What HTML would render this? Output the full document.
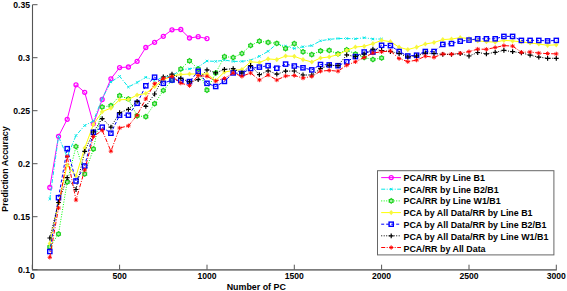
<!DOCTYPE html>
<html><head><meta charset="utf-8"><style>
html,body{margin:0;padding:0;background:#fff;}
svg{display:block;}
.t{font-family:"Liberation Sans",sans-serif;font-weight:bold;font-size:8.6px;fill:#000;}
.l{font-family:"Liberation Sans",sans-serif;font-weight:bold;font-size:8.9px;fill:#000;}
</style></head><body>
<svg width="567" height="291" viewBox="0 0 567 291">
<rect width="567" height="291" fill="#fff"/>
<path d="M32.5 4.7V269.2" fill="none" stroke="#555" stroke-width="1.1"/>
<path d="M32 269.9H556.8" fill="none" stroke="#7c7c7c" stroke-width="1.7"/>
<path d="M32.5 269.7H37.5" stroke="#555" stroke-width="1"/>
<text x="30" y="272.6" text-anchor="end" class="t">0.1</text>
<path d="M32.5 216.7H37.5" stroke="#555" stroke-width="1"/>
<text x="30" y="219.6" text-anchor="end" class="t">0.15</text>
<path d="M32.5 163.7H37.5" stroke="#555" stroke-width="1"/>
<text x="30" y="166.6" text-anchor="end" class="t">0.2</text>
<path d="M32.5 110.7H37.5" stroke="#555" stroke-width="1"/>
<text x="30" y="113.6" text-anchor="end" class="t">0.25</text>
<path d="M32.5 57.7H37.5" stroke="#555" stroke-width="1"/>
<text x="30" y="60.6" text-anchor="end" class="t">0.3</text>
<path d="M32.5 4.7H37.5" stroke="#555" stroke-width="1"/>
<text x="30" y="7.6" text-anchor="end" class="t">0.35</text>
<path d="M32.3 269.7V264.7" stroke="#555" stroke-width="1"/>
<text x="32.3" y="279.1" text-anchor="middle" class="t">0</text>
<path d="M119.6 269.7V264.7" stroke="#555" stroke-width="1"/>
<text x="119.6" y="279.1" text-anchor="middle" class="t">500</text>
<path d="M207.0 269.7V264.7" stroke="#555" stroke-width="1"/>
<text x="207.0" y="279.1" text-anchor="middle" class="t">1000</text>
<path d="M294.3 269.7V264.7" stroke="#555" stroke-width="1"/>
<text x="294.3" y="279.1" text-anchor="middle" class="t">1500</text>
<path d="M381.6 269.7V264.7" stroke="#555" stroke-width="1"/>
<text x="381.6" y="279.1" text-anchor="middle" class="t">2000</text>
<path d="M469.0 269.7V264.7" stroke="#555" stroke-width="1"/>
<text x="469.0" y="279.1" text-anchor="middle" class="t">2500</text>
<path d="M556.3 269.7V264.7" stroke="#555" stroke-width="1"/>
<text x="556.3" y="279.1" text-anchor="middle" class="t">3000</text>
<text x="256.3" y="289.9" text-anchor="middle" class="l">Number of PC</text>
<text transform="translate(7.8 169) rotate(-90)" text-anchor="middle" class="l">Prediction Accuracy</text>
<path d="M49.8 187.5 L58.5 136.3 L67.2 119.3 L76.0 84.8 L84.7 92.3 L93.4 123.8 L102.2 99.5 L110.9 78.8 L119.6 67.6 L128.4 67.0 L137.1 61.3 L145.8 47.5 L154.6 42.3 L163.3 36.3 L172.0 29.8 L180.8 29.5 L189.5 38.0 L198.2 36.7 L207.0 38.6" fill="none" stroke="#ff00ff" stroke-width="1"/>
<circle cx="49.8" cy="187.5" r="2.0" fill="none" stroke="#ff00ff" stroke-width="1.3"/>
<circle cx="58.5" cy="136.3" r="2.0" fill="none" stroke="#ff00ff" stroke-width="1.3"/>
<circle cx="67.2" cy="119.3" r="2.0" fill="none" stroke="#ff00ff" stroke-width="1.3"/>
<circle cx="76.0" cy="84.8" r="2.0" fill="none" stroke="#ff00ff" stroke-width="1.3"/>
<circle cx="84.7" cy="92.3" r="2.0" fill="none" stroke="#ff00ff" stroke-width="1.3"/>
<circle cx="93.4" cy="123.8" r="2.0" fill="none" stroke="#ff00ff" stroke-width="1.3"/>
<circle cx="102.2" cy="99.5" r="2.0" fill="none" stroke="#ff00ff" stroke-width="1.3"/>
<circle cx="110.9" cy="78.8" r="2.0" fill="none" stroke="#ff00ff" stroke-width="1.3"/>
<circle cx="119.6" cy="67.6" r="2.0" fill="none" stroke="#ff00ff" stroke-width="1.3"/>
<circle cx="128.4" cy="67.0" r="2.0" fill="none" stroke="#ff00ff" stroke-width="1.3"/>
<circle cx="137.1" cy="61.3" r="2.0" fill="none" stroke="#ff00ff" stroke-width="1.3"/>
<circle cx="145.8" cy="47.5" r="2.0" fill="none" stroke="#ff00ff" stroke-width="1.3"/>
<circle cx="154.6" cy="42.3" r="2.0" fill="none" stroke="#ff00ff" stroke-width="1.3"/>
<circle cx="163.3" cy="36.3" r="2.0" fill="none" stroke="#ff00ff" stroke-width="1.3"/>
<circle cx="172.0" cy="29.8" r="2.0" fill="none" stroke="#ff00ff" stroke-width="1.3"/>
<circle cx="180.8" cy="29.5" r="2.0" fill="none" stroke="#ff00ff" stroke-width="1.3"/>
<circle cx="189.5" cy="38.0" r="2.0" fill="none" stroke="#ff00ff" stroke-width="1.3"/>
<circle cx="198.2" cy="36.7" r="2.0" fill="none" stroke="#ff00ff" stroke-width="1.3"/>
<circle cx="207.0" cy="38.6" r="2.0" fill="none" stroke="#ff00ff" stroke-width="1.3"/>
<path d="M49.8 199.0 L58.5 136.5 L67.2 157.0 L76.0 135.5 L84.7 125.5 L93.4 121.0 L102.2 98.5 L110.9 82.0 L119.6 76.4 L128.4 87.0 L137.1 82.5 L145.8 77.3 L154.6 80.4 L163.3 77.3 L172.0 76.0 L180.8 69.6 L189.5 68.9 L198.2 67.0 L207.0 61.0 L215.7 61.4 L224.4 60.1 L233.2 61.4 L241.9 61.4 L250.6 60.1 L259.4 56.3 L268.1 51.3 L276.8 43.8 L285.6 46.2 L294.3 48.5 L303.0 46.7 L311.8 45.6 L320.5 40.8 L329.2 39.4 L338.0 38.5 L346.7 38.5 L355.4 38.8 L364.2 37.7 L372.9 39.0 L381.6 39.0" fill="none" stroke="#00e8e8" stroke-width="1" stroke-dasharray="4 1.5 1 1.5"/>
<path d="M48.6 197.8L51.0 200.2M48.6 200.2L51.0 197.8" stroke="#00e8e8" stroke-width="1"/>
<path d="M57.3 135.3L59.7 137.7M57.3 137.7L59.7 135.3" stroke="#00e8e8" stroke-width="1"/>
<path d="M66.0 155.8L68.4 158.2M66.0 158.2L68.4 155.8" stroke="#00e8e8" stroke-width="1"/>
<path d="M74.8 134.3L77.2 136.7M74.8 136.7L77.2 134.3" stroke="#00e8e8" stroke-width="1"/>
<path d="M83.5 124.3L85.9 126.7M83.5 126.7L85.9 124.3" stroke="#00e8e8" stroke-width="1"/>
<path d="M92.2 119.8L94.6 122.2M92.2 122.2L94.6 119.8" stroke="#00e8e8" stroke-width="1"/>
<path d="M101.0 97.3L103.4 99.7M101.0 99.7L103.4 97.3" stroke="#00e8e8" stroke-width="1"/>
<path d="M109.7 80.8L112.1 83.2M109.7 83.2L112.1 80.8" stroke="#00e8e8" stroke-width="1"/>
<path d="M118.4 75.2L120.8 77.6M118.4 77.6L120.8 75.2" stroke="#00e8e8" stroke-width="1"/>
<path d="M127.2 85.8L129.6 88.2M127.2 88.2L129.6 85.8" stroke="#00e8e8" stroke-width="1"/>
<path d="M135.9 81.3L138.3 83.7M135.9 83.7L138.3 81.3" stroke="#00e8e8" stroke-width="1"/>
<path d="M144.6 76.1L147.0 78.5M144.6 78.5L147.0 76.1" stroke="#00e8e8" stroke-width="1"/>
<path d="M153.4 79.2L155.8 81.6M153.4 81.6L155.8 79.2" stroke="#00e8e8" stroke-width="1"/>
<path d="M162.1 76.1L164.5 78.5M162.1 78.5L164.5 76.1" stroke="#00e8e8" stroke-width="1"/>
<path d="M170.8 74.8L173.2 77.2M170.8 77.2L173.2 74.8" stroke="#00e8e8" stroke-width="1"/>
<path d="M179.6 68.4L182.0 70.8M179.6 70.8L182.0 68.4" stroke="#00e8e8" stroke-width="1"/>
<path d="M188.3 67.7L190.7 70.1M188.3 70.1L190.7 67.7" stroke="#00e8e8" stroke-width="1"/>
<path d="M197.0 65.8L199.4 68.2M197.0 68.2L199.4 65.8" stroke="#00e8e8" stroke-width="1"/>
<path d="M205.8 59.8L208.2 62.2M205.8 62.2L208.2 59.8" stroke="#00e8e8" stroke-width="1"/>
<path d="M214.5 60.2L216.9 62.6M214.5 62.6L216.9 60.2" stroke="#00e8e8" stroke-width="1"/>
<path d="M223.2 58.9L225.6 61.3M223.2 61.3L225.6 58.9" stroke="#00e8e8" stroke-width="1"/>
<path d="M232.0 60.2L234.4 62.6M232.0 62.6L234.4 60.2" stroke="#00e8e8" stroke-width="1"/>
<path d="M240.7 60.2L243.1 62.6M240.7 62.6L243.1 60.2" stroke="#00e8e8" stroke-width="1"/>
<path d="M249.4 58.9L251.8 61.3M249.4 61.3L251.8 58.9" stroke="#00e8e8" stroke-width="1"/>
<path d="M258.2 55.1L260.6 57.5M258.2 57.5L260.6 55.1" stroke="#00e8e8" stroke-width="1"/>
<path d="M266.9 50.1L269.3 52.5M266.9 52.5L269.3 50.1" stroke="#00e8e8" stroke-width="1"/>
<path d="M275.6 42.6L278.0 45.0M275.6 45.0L278.0 42.6" stroke="#00e8e8" stroke-width="1"/>
<path d="M284.4 45.0L286.8 47.4M284.4 47.4L286.8 45.0" stroke="#00e8e8" stroke-width="1"/>
<path d="M293.1 47.3L295.5 49.7M293.1 49.7L295.5 47.3" stroke="#00e8e8" stroke-width="1"/>
<path d="M301.8 45.5L304.2 47.9M301.8 47.9L304.2 45.5" stroke="#00e8e8" stroke-width="1"/>
<path d="M310.6 44.4L313.0 46.8M310.6 46.8L313.0 44.4" stroke="#00e8e8" stroke-width="1"/>
<path d="M319.3 39.6L321.7 42.0M319.3 42.0L321.7 39.6" stroke="#00e8e8" stroke-width="1"/>
<path d="M328.0 38.2L330.4 40.6M328.0 40.6L330.4 38.2" stroke="#00e8e8" stroke-width="1"/>
<path d="M336.8 37.3L339.2 39.7M336.8 39.7L339.2 37.3" stroke="#00e8e8" stroke-width="1"/>
<path d="M345.5 37.3L347.9 39.7M345.5 39.7L347.9 37.3" stroke="#00e8e8" stroke-width="1"/>
<path d="M354.2 37.6L356.6 40.0M354.2 40.0L356.6 37.6" stroke="#00e8e8" stroke-width="1"/>
<path d="M363.0 36.5L365.4 38.9M363.0 38.9L365.4 36.5" stroke="#00e8e8" stroke-width="1"/>
<path d="M371.7 37.8L374.1 40.2M371.7 40.2L374.1 37.8" stroke="#00e8e8" stroke-width="1"/>
<path d="M380.4 37.8L382.8 40.2M380.4 40.2L382.8 37.8" stroke="#00e8e8" stroke-width="1"/>
<path d="M49.8 247.0 L58.5 234.0 L67.2 182.0 L76.0 146.5 L84.7 174.0 L93.4 149.0 L102.2 107.0 L110.9 105.7 L119.6 95.7 L128.4 99.0 L137.1 115.8 L145.8 116.7 L154.6 103.7 L163.3 90.5 L172.0 80.3 L180.8 69.0 L189.5 60.8 L198.2 69.0 L207.0 90.2 L215.7 73.0 L224.4 56.6 L233.2 57.5 L241.9 53.5 L250.6 45.5 L259.4 41.2 L268.1 42.4 L276.8 43.4 L285.6 48.6 L294.3 43.6 L303.0 51.8 L311.8 54.6 L320.5 50.9 L329.2 50.4 L338.0 53.9 L346.7 49.8 L355.4 54.0 L364.2 57.5 L372.9 59.5 L381.6 58.0" fill="none" stroke="#00ff00" stroke-width="1" stroke-dasharray="1 1.5"/>
<polygon points="49.77,244.70 48.89,245.48 47.77,245.85 48.02,247.00 47.77,248.15 48.89,248.52 49.77,249.30 50.64,248.52 51.76,248.15 51.52,247.00 51.76,245.85 50.64,245.48" fill="#a8f0a8" stroke="#18d018" stroke-width="1.2"/>
<polygon points="58.50,231.70 57.62,232.48 56.51,232.85 56.75,234.00 56.51,235.15 57.62,235.52 58.50,236.30 59.38,235.52 60.49,235.15 60.25,234.00 60.49,232.85 59.38,232.48" fill="#a8f0a8" stroke="#18d018" stroke-width="1.2"/>
<polygon points="67.23,179.70 66.36,180.48 65.24,180.85 65.48,182.00 65.24,183.15 66.36,183.52 67.23,184.30 68.11,183.52 69.23,183.15 68.98,182.00 69.23,180.85 68.11,180.48" fill="#a8f0a8" stroke="#18d018" stroke-width="1.2"/>
<polygon points="75.97,144.20 75.09,144.98 73.97,145.35 74.22,146.50 73.97,147.65 75.09,148.02 75.97,148.80 76.84,148.02 77.96,147.65 77.72,146.50 77.96,145.35 76.84,144.98" fill="#a8f0a8" stroke="#18d018" stroke-width="1.2"/>
<polygon points="84.70,171.70 83.82,172.48 82.71,172.85 82.95,174.00 82.71,175.15 83.82,175.52 84.70,176.30 85.57,175.52 86.69,175.15 86.45,174.00 86.69,172.85 85.57,172.48" fill="#a8f0a8" stroke="#18d018" stroke-width="1.2"/>
<polygon points="93.43,146.70 92.56,147.48 91.44,147.85 91.68,149.00 91.44,150.15 92.56,150.52 93.43,151.30 94.31,150.52 95.43,150.15 95.18,149.00 95.43,147.85 94.31,147.48" fill="#a8f0a8" stroke="#18d018" stroke-width="1.2"/>
<polygon points="102.17,104.70 101.29,105.48 100.17,105.85 100.42,107.00 100.17,108.15 101.29,108.52 102.17,109.30 103.04,108.52 104.16,108.15 103.92,107.00 104.16,105.85 103.04,105.48" fill="#a8f0a8" stroke="#18d018" stroke-width="1.2"/>
<polygon points="110.90,103.40 110.02,104.18 108.91,104.55 109.15,105.70 108.91,106.85 110.02,107.22 110.90,108.00 111.77,107.22 112.89,106.85 112.65,105.70 112.89,104.55 111.77,104.18" fill="#a8f0a8" stroke="#18d018" stroke-width="1.2"/>
<polygon points="119.63,93.40 118.76,94.18 117.64,94.55 117.88,95.70 117.64,96.85 118.76,97.22 119.63,98.00 120.51,97.22 121.63,96.85 121.38,95.70 121.63,94.55 120.51,94.18" fill="#a8f0a8" stroke="#18d018" stroke-width="1.2"/>
<polygon points="128.37,96.70 127.49,97.48 126.37,97.85 126.62,99.00 126.37,100.15 127.49,100.52 128.37,101.30 129.24,100.52 130.36,100.15 130.12,99.00 130.36,97.85 129.24,97.48" fill="#a8f0a8" stroke="#18d018" stroke-width="1.2"/>
<polygon points="137.10,113.50 136.22,114.28 135.11,114.65 135.35,115.80 135.11,116.95 136.22,117.32 137.10,118.10 137.97,117.32 139.09,116.95 138.85,115.80 139.09,114.65 137.97,114.28" fill="#a8f0a8" stroke="#18d018" stroke-width="1.2"/>
<polygon points="145.83,114.40 144.96,115.18 143.84,115.55 144.08,116.70 143.84,117.85 144.96,118.22 145.83,119.00 146.71,118.22 147.83,117.85 147.58,116.70 147.83,115.55 146.71,115.18" fill="#a8f0a8" stroke="#18d018" stroke-width="1.2"/>
<polygon points="154.57,101.40 153.69,102.18 152.57,102.55 152.82,103.70 152.57,104.85 153.69,105.22 154.57,106.00 155.44,105.22 156.56,104.85 156.32,103.70 156.56,102.55 155.44,102.18" fill="#a8f0a8" stroke="#18d018" stroke-width="1.2"/>
<polygon points="163.30,88.20 162.43,88.98 161.31,89.35 161.55,90.50 161.31,91.65 162.43,92.02 163.30,92.80 164.18,92.02 165.29,91.65 165.05,90.50 165.29,89.35 164.18,88.98" fill="#a8f0a8" stroke="#18d018" stroke-width="1.2"/>
<polygon points="172.03,78.00 171.16,78.78 170.04,79.15 170.28,80.30 170.04,81.45 171.16,81.82 172.03,82.60 172.91,81.82 174.03,81.45 173.78,80.30 174.03,79.15 172.91,78.78" fill="#a8f0a8" stroke="#18d018" stroke-width="1.2"/>
<polygon points="180.77,66.70 179.89,67.48 178.77,67.85 179.02,69.00 178.77,70.15 179.89,70.52 180.77,71.30 181.64,70.52 182.76,70.15 182.52,69.00 182.76,67.85 181.64,67.48" fill="#a8f0a8" stroke="#18d018" stroke-width="1.2"/>
<polygon points="189.50,58.50 188.62,59.28 187.51,59.65 187.75,60.80 187.51,61.95 188.62,62.32 189.50,63.10 190.38,62.32 191.49,61.95 191.25,60.80 191.49,59.65 190.38,59.28" fill="#a8f0a8" stroke="#18d018" stroke-width="1.2"/>
<polygon points="198.23,66.70 197.36,67.48 196.24,67.85 196.48,69.00 196.24,70.15 197.36,70.52 198.23,71.30 199.11,70.52 200.23,70.15 199.98,69.00 200.23,67.85 199.11,67.48" fill="#a8f0a8" stroke="#18d018" stroke-width="1.2"/>
<polygon points="206.97,87.90 206.09,88.68 204.97,89.05 205.22,90.20 204.97,91.35 206.09,91.72 206.97,92.50 207.84,91.72 208.96,91.35 208.72,90.20 208.96,89.05 207.84,88.68" fill="#a8f0a8" stroke="#18d018" stroke-width="1.2"/>
<polygon points="215.70,70.70 214.82,71.48 213.71,71.85 213.95,73.00 213.71,74.15 214.82,74.52 215.70,75.30 216.57,74.52 217.69,74.15 217.45,73.00 217.69,71.85 216.57,71.48" fill="#a8f0a8" stroke="#18d018" stroke-width="1.2"/>
<polygon points="224.43,54.30 223.56,55.08 222.44,55.45 222.68,56.60 222.44,57.75 223.56,58.12 224.43,58.90 225.31,58.12 226.43,57.75 226.18,56.60 226.43,55.45 225.31,55.08" fill="#a8f0a8" stroke="#18d018" stroke-width="1.2"/>
<polygon points="233.17,55.20 232.29,55.98 231.17,56.35 231.42,57.50 231.17,58.65 232.29,59.02 233.17,59.80 234.04,59.02 235.16,58.65 234.92,57.50 235.16,56.35 234.04,55.98" fill="#a8f0a8" stroke="#18d018" stroke-width="1.2"/>
<polygon points="241.90,51.20 241.02,51.98 239.91,52.35 240.15,53.50 239.91,54.65 241.02,55.02 241.90,55.80 242.77,55.02 243.89,54.65 243.65,53.50 243.89,52.35 242.77,51.98" fill="#a8f0a8" stroke="#18d018" stroke-width="1.2"/>
<polygon points="250.63,43.20 249.76,43.98 248.64,44.35 248.88,45.50 248.64,46.65 249.76,47.02 250.63,47.80 251.51,47.02 252.63,46.65 252.38,45.50 252.63,44.35 251.51,43.98" fill="#a8f0a8" stroke="#18d018" stroke-width="1.2"/>
<polygon points="259.37,38.90 258.49,39.68 257.37,40.05 257.62,41.20 257.37,42.35 258.49,42.72 259.37,43.50 260.24,42.72 261.36,42.35 261.12,41.20 261.36,40.05 260.24,39.68" fill="#a8f0a8" stroke="#18d018" stroke-width="1.2"/>
<polygon points="268.10,40.10 267.22,40.88 266.11,41.25 266.35,42.40 266.11,43.55 267.22,43.92 268.10,44.70 268.97,43.92 270.09,43.55 269.85,42.40 270.09,41.25 268.97,40.88" fill="#a8f0a8" stroke="#18d018" stroke-width="1.2"/>
<polygon points="276.83,41.10 275.96,41.88 274.84,42.25 275.08,43.40 274.84,44.55 275.96,44.92 276.83,45.70 277.71,44.92 278.83,44.55 278.58,43.40 278.83,42.25 277.71,41.88" fill="#a8f0a8" stroke="#18d018" stroke-width="1.2"/>
<polygon points="285.57,46.30 284.69,47.08 283.57,47.45 283.82,48.60 283.57,49.75 284.69,50.12 285.57,50.90 286.44,50.12 287.56,49.75 287.32,48.60 287.56,47.45 286.44,47.08" fill="#a8f0a8" stroke="#18d018" stroke-width="1.2"/>
<polygon points="294.30,41.30 293.43,42.08 292.31,42.45 292.55,43.60 292.31,44.75 293.43,45.12 294.30,45.90 295.18,45.12 296.29,44.75 296.05,43.60 296.29,42.45 295.18,42.08" fill="#a8f0a8" stroke="#18d018" stroke-width="1.2"/>
<polygon points="303.03,49.50 302.16,50.28 301.04,50.65 301.28,51.80 301.04,52.95 302.16,53.32 303.03,54.10 303.91,53.32 305.03,52.95 304.78,51.80 305.03,50.65 303.91,50.28" fill="#a8f0a8" stroke="#18d018" stroke-width="1.2"/>
<polygon points="311.77,52.30 310.89,53.08 309.77,53.45 310.02,54.60 309.77,55.75 310.89,56.12 311.77,56.90 312.64,56.12 313.76,55.75 313.52,54.60 313.76,53.45 312.64,53.08" fill="#a8f0a8" stroke="#18d018" stroke-width="1.2"/>
<polygon points="320.50,48.60 319.62,49.38 318.51,49.75 318.75,50.90 318.51,52.05 319.62,52.42 320.50,53.20 321.38,52.42 322.49,52.05 322.25,50.90 322.49,49.75 321.38,49.38" fill="#a8f0a8" stroke="#18d018" stroke-width="1.2"/>
<polygon points="329.23,48.10 328.36,48.88 327.24,49.25 327.48,50.40 327.24,51.55 328.36,51.92 329.23,52.70 330.11,51.92 331.23,51.55 330.98,50.40 331.23,49.25 330.11,48.88" fill="#a8f0a8" stroke="#18d018" stroke-width="1.2"/>
<polygon points="337.97,51.60 337.09,52.38 335.97,52.75 336.22,53.90 335.97,55.05 337.09,55.42 337.97,56.20 338.84,55.42 339.96,55.05 339.72,53.90 339.96,52.75 338.84,52.38" fill="#a8f0a8" stroke="#18d018" stroke-width="1.2"/>
<polygon points="346.70,47.50 345.82,48.28 344.71,48.65 344.95,49.80 344.71,50.95 345.82,51.32 346.70,52.10 347.57,51.32 348.69,50.95 348.45,49.80 348.69,48.65 347.57,48.28" fill="#a8f0a8" stroke="#18d018" stroke-width="1.2"/>
<polygon points="355.43,51.70 354.56,52.48 353.44,52.85 353.68,54.00 353.44,55.15 354.56,55.52 355.43,56.30 356.31,55.52 357.43,55.15 357.18,54.00 357.43,52.85 356.31,52.48" fill="#a8f0a8" stroke="#18d018" stroke-width="1.2"/>
<polygon points="364.17,55.20 363.29,55.98 362.17,56.35 362.42,57.50 362.17,58.65 363.29,59.02 364.17,59.80 365.04,59.02 366.16,58.65 365.92,57.50 366.16,56.35 365.04,55.98" fill="#a8f0a8" stroke="#18d018" stroke-width="1.2"/>
<polygon points="372.90,57.20 372.03,57.98 370.91,58.35 371.15,59.50 370.91,60.65 372.03,61.02 372.90,61.80 373.78,61.02 374.89,60.65 374.65,59.50 374.89,58.35 373.78,57.98" fill="#a8f0a8" stroke="#18d018" stroke-width="1.2"/>
<polygon points="381.63,55.70 380.76,56.48 379.64,56.85 379.88,58.00 379.64,59.15 380.76,59.52 381.63,60.30 382.51,59.52 383.63,59.15 383.38,58.00 383.63,56.85 382.51,56.48" fill="#a8f0a8" stroke="#18d018" stroke-width="1.2"/>
<path d="M49.8 243.6 L58.5 203.0 L67.2 165.0 L76.0 176.0 L84.7 148.0 L93.4 124.5 L102.2 111.7 L110.9 108.1 L119.6 99.7 L128.4 99.5 L137.1 95.0 L145.8 93.5 L154.6 86.5 L163.3 80.0 L172.0 76.0 L180.8 74.5 L189.5 74.0 L198.2 74.0 L207.0 74.0 L215.7 80.5 L224.4 72.0 L233.2 70.5 L241.9 69.5 L250.6 61.8 L259.4 62.5 L268.1 58.9 L276.8 59.6 L285.6 56.0 L294.3 56.3 L303.0 59.6 L311.8 62.0 L320.5 58.0 L329.2 56.9 L338.0 54.6 L346.7 50.4 L355.4 47.0 L364.2 46.3 L372.9 43.7 L381.6 40.3 L390.4 41.7 L399.1 47.2 L407.8 49.6 L416.6 47.2 L425.3 44.0 L434.0 42.5 L442.8 39.6 L451.5 39.0 L460.2 37.7 L469.0 38.5 L477.7 40.9 L486.4 41.7 L495.2 42.1 L503.9 40.4 L512.6 40.9 L521.4 42.0 L530.1 43.0 L538.8 44.0 L547.6 45.3 L556.3 44.8" fill="none" stroke="#ffff00" stroke-width="1"/>
<path d="M49.8 241.0L52.0 243.6L49.8 246.2L47.6 243.6Z" fill="#f6f640" stroke="none"/>
<path d="M58.5 200.4L60.7 203.0L58.5 205.6L56.3 203.0Z" fill="#f6f640" stroke="none"/>
<path d="M67.2 162.4L69.4 165.0L67.2 167.6L65.0 165.0Z" fill="#f6f640" stroke="none"/>
<path d="M76.0 173.4L78.2 176.0L76.0 178.6L73.8 176.0Z" fill="#f6f640" stroke="none"/>
<path d="M84.7 145.4L86.9 148.0L84.7 150.6L82.5 148.0Z" fill="#f6f640" stroke="none"/>
<path d="M93.4 121.9L95.6 124.5L93.4 127.1L91.2 124.5Z" fill="#f6f640" stroke="none"/>
<path d="M102.2 109.1L104.4 111.7L102.2 114.3L100.0 111.7Z" fill="#f6f640" stroke="none"/>
<path d="M110.9 105.5L113.1 108.1L110.9 110.7L108.7 108.1Z" fill="#f6f640" stroke="none"/>
<path d="M119.6 97.1L121.8 99.7L119.6 102.3L117.4 99.7Z" fill="#f6f640" stroke="none"/>
<path d="M128.4 96.9L130.6 99.5L128.4 102.1L126.2 99.5Z" fill="#f6f640" stroke="none"/>
<path d="M137.1 92.4L139.3 95.0L137.1 97.6L134.9 95.0Z" fill="#f6f640" stroke="none"/>
<path d="M145.8 90.9L148.0 93.5L145.8 96.1L143.6 93.5Z" fill="#f6f640" stroke="none"/>
<path d="M154.6 83.9L156.8 86.5L154.6 89.1L152.4 86.5Z" fill="#f6f640" stroke="none"/>
<path d="M163.3 77.4L165.5 80.0L163.3 82.6L161.1 80.0Z" fill="#f6f640" stroke="none"/>
<path d="M172.0 73.4L174.2 76.0L172.0 78.6L169.8 76.0Z" fill="#f6f640" stroke="none"/>
<path d="M180.8 71.9L183.0 74.5L180.8 77.1L178.6 74.5Z" fill="#f6f640" stroke="none"/>
<path d="M189.5 71.4L191.7 74.0L189.5 76.6L187.3 74.0Z" fill="#f6f640" stroke="none"/>
<path d="M198.2 71.4L200.4 74.0L198.2 76.6L196.0 74.0Z" fill="#f6f640" stroke="none"/>
<path d="M207.0 71.4L209.2 74.0L207.0 76.6L204.8 74.0Z" fill="#f6f640" stroke="none"/>
<path d="M215.7 77.9L217.9 80.5L215.7 83.1L213.5 80.5Z" fill="#f6f640" stroke="none"/>
<path d="M224.4 69.4L226.6 72.0L224.4 74.6L222.2 72.0Z" fill="#f6f640" stroke="none"/>
<path d="M233.2 67.9L235.4 70.5L233.2 73.1L231.0 70.5Z" fill="#f6f640" stroke="none"/>
<path d="M241.9 66.9L244.1 69.5L241.9 72.1L239.7 69.5Z" fill="#f6f640" stroke="none"/>
<path d="M250.6 59.2L252.8 61.8L250.6 64.4L248.4 61.8Z" fill="#f6f640" stroke="none"/>
<path d="M259.4 59.9L261.6 62.5L259.4 65.1L257.2 62.5Z" fill="#f6f640" stroke="none"/>
<path d="M268.1 56.3L270.3 58.9L268.1 61.5L265.9 58.9Z" fill="#f6f640" stroke="none"/>
<path d="M276.8 57.0L279.0 59.6L276.8 62.2L274.6 59.6Z" fill="#f6f640" stroke="none"/>
<path d="M285.6 53.4L287.8 56.0L285.6 58.6L283.4 56.0Z" fill="#f6f640" stroke="none"/>
<path d="M294.3 53.7L296.5 56.3L294.3 58.9L292.1 56.3Z" fill="#f6f640" stroke="none"/>
<path d="M303.0 57.0L305.2 59.6L303.0 62.2L300.8 59.6Z" fill="#f6f640" stroke="none"/>
<path d="M311.8 59.4L314.0 62.0L311.8 64.6L309.6 62.0Z" fill="#f6f640" stroke="none"/>
<path d="M320.5 55.4L322.7 58.0L320.5 60.6L318.3 58.0Z" fill="#f6f640" stroke="none"/>
<path d="M329.2 54.3L331.4 56.9L329.2 59.5L327.0 56.9Z" fill="#f6f640" stroke="none"/>
<path d="M338.0 52.0L340.2 54.6L338.0 57.2L335.8 54.6Z" fill="#f6f640" stroke="none"/>
<path d="M346.7 47.8L348.9 50.4L346.7 53.0L344.5 50.4Z" fill="#f6f640" stroke="none"/>
<path d="M355.4 44.4L357.6 47.0L355.4 49.6L353.2 47.0Z" fill="#f6f640" stroke="none"/>
<path d="M364.2 43.7L366.4 46.3L364.2 48.9L362.0 46.3Z" fill="#f6f640" stroke="none"/>
<path d="M372.9 41.1L375.1 43.7L372.9 46.3L370.7 43.7Z" fill="#f6f640" stroke="none"/>
<path d="M381.6 37.7L383.8 40.3L381.6 42.9L379.4 40.3Z" fill="#f6f640" stroke="none"/>
<path d="M390.4 39.1L392.6 41.7L390.4 44.3L388.2 41.7Z" fill="#f6f640" stroke="none"/>
<path d="M399.1 44.6L401.3 47.2L399.1 49.8L396.9 47.2Z" fill="#f6f640" stroke="none"/>
<path d="M407.8 47.0L410.0 49.6L407.8 52.2L405.6 49.6Z" fill="#f6f640" stroke="none"/>
<path d="M416.6 44.6L418.8 47.2L416.6 49.8L414.4 47.2Z" fill="#f6f640" stroke="none"/>
<path d="M425.3 41.4L427.5 44.0L425.3 46.6L423.1 44.0Z" fill="#f6f640" stroke="none"/>
<path d="M434.0 39.9L436.2 42.5L434.0 45.1L431.8 42.5Z" fill="#f6f640" stroke="none"/>
<path d="M442.8 37.0L445.0 39.6L442.8 42.2L440.6 39.6Z" fill="#f6f640" stroke="none"/>
<path d="M451.5 36.4L453.7 39.0L451.5 41.6L449.3 39.0Z" fill="#f6f640" stroke="none"/>
<path d="M460.2 35.1L462.4 37.7L460.2 40.3L458.0 37.7Z" fill="#f6f640" stroke="none"/>
<path d="M469.0 35.9L471.2 38.5L469.0 41.1L466.8 38.5Z" fill="#f6f640" stroke="none"/>
<path d="M477.7 38.3L479.9 40.9L477.7 43.5L475.5 40.9Z" fill="#f6f640" stroke="none"/>
<path d="M486.4 39.1L488.6 41.7L486.4 44.3L484.2 41.7Z" fill="#f6f640" stroke="none"/>
<path d="M495.2 39.5L497.4 42.1L495.2 44.7L493.0 42.1Z" fill="#f6f640" stroke="none"/>
<path d="M503.9 37.8L506.1 40.4L503.9 43.0L501.7 40.4Z" fill="#f6f640" stroke="none"/>
<path d="M512.6 38.3L514.8 40.9L512.6 43.5L510.4 40.9Z" fill="#f6f640" stroke="none"/>
<path d="M521.4 39.4L523.6 42.0L521.4 44.6L519.2 42.0Z" fill="#f6f640" stroke="none"/>
<path d="M530.1 40.4L532.3 43.0L530.1 45.6L527.9 43.0Z" fill="#f6f640" stroke="none"/>
<path d="M538.8 41.4L541.0 44.0L538.8 46.6L536.6 44.0Z" fill="#f6f640" stroke="none"/>
<path d="M547.6 42.7L549.8 45.3L547.6 47.9L545.4 45.3Z" fill="#f6f640" stroke="none"/>
<path d="M556.3 42.2L558.5 44.8L556.3 47.4L554.1 44.8Z" fill="#f6f640" stroke="none"/>
<path d="M49.8 251.5 L58.5 197.7 L67.2 148.7 L76.0 181.0 L84.7 166.0 L93.4 132.3 L102.2 127.2 L110.9 133.2 L119.6 115.2 L128.4 115.2 L137.1 103.3 L145.8 85.8 L154.6 77.2 L163.3 83.3 L172.0 80.0 L180.8 80.4 L189.5 81.6 L198.2 71.3 L207.0 83.3 L215.7 86.5 L224.4 81.4 L233.2 72.9 L241.9 73.5 L250.6 68.5 L259.4 67.1 L268.1 65.7 L276.8 68.2 L285.6 64.1 L294.3 66.0 L303.0 67.8 L311.8 69.9 L320.5 64.5 L329.2 64.9 L338.0 65.7 L346.7 61.8 L355.4 56.6 L364.2 52.0 L372.9 52.0 L381.6 45.3 L390.4 45.6 L399.1 51.5 L407.8 56.0 L416.6 55.2 L425.3 51.5 L434.0 51.5 L442.8 44.4 L451.5 43.6 L460.2 41.2 L469.0 40.1 L477.7 38.8 L486.4 38.8 L495.2 38.8 L503.9 36.4 L512.6 36.4 L521.4 40.4 L530.1 40.4 L538.8 40.4 L547.6 40.9 L556.3 40.4" fill="none" stroke="#0000ff" stroke-width="1" stroke-dasharray="3 2"/>
<rect x="47.7" y="249.4" width="4.2" height="4.2" fill="none" stroke="#0000ff" stroke-width="1.4"/>
<rect x="56.4" y="195.6" width="4.2" height="4.2" fill="none" stroke="#0000ff" stroke-width="1.4"/>
<rect x="65.1" y="146.6" width="4.2" height="4.2" fill="none" stroke="#0000ff" stroke-width="1.4"/>
<rect x="73.9" y="178.9" width="4.2" height="4.2" fill="none" stroke="#0000ff" stroke-width="1.4"/>
<rect x="82.6" y="163.9" width="4.2" height="4.2" fill="none" stroke="#0000ff" stroke-width="1.4"/>
<rect x="91.3" y="130.2" width="4.2" height="4.2" fill="none" stroke="#0000ff" stroke-width="1.4"/>
<rect x="100.1" y="125.1" width="4.2" height="4.2" fill="none" stroke="#0000ff" stroke-width="1.4"/>
<rect x="108.8" y="131.1" width="4.2" height="4.2" fill="none" stroke="#0000ff" stroke-width="1.4"/>
<rect x="117.5" y="113.1" width="4.2" height="4.2" fill="none" stroke="#0000ff" stroke-width="1.4"/>
<rect x="126.3" y="113.1" width="4.2" height="4.2" fill="none" stroke="#0000ff" stroke-width="1.4"/>
<rect x="135.0" y="101.2" width="4.2" height="4.2" fill="none" stroke="#0000ff" stroke-width="1.4"/>
<rect x="143.7" y="83.7" width="4.2" height="4.2" fill="none" stroke="#0000ff" stroke-width="1.4"/>
<rect x="152.5" y="75.1" width="4.2" height="4.2" fill="none" stroke="#0000ff" stroke-width="1.4"/>
<rect x="161.2" y="81.2" width="4.2" height="4.2" fill="none" stroke="#0000ff" stroke-width="1.4"/>
<rect x="169.9" y="77.9" width="4.2" height="4.2" fill="none" stroke="#0000ff" stroke-width="1.4"/>
<rect x="178.7" y="78.3" width="4.2" height="4.2" fill="none" stroke="#0000ff" stroke-width="1.4"/>
<rect x="187.4" y="79.5" width="4.2" height="4.2" fill="none" stroke="#0000ff" stroke-width="1.4"/>
<rect x="196.1" y="69.2" width="4.2" height="4.2" fill="none" stroke="#0000ff" stroke-width="1.4"/>
<rect x="204.9" y="81.2" width="4.2" height="4.2" fill="none" stroke="#0000ff" stroke-width="1.4"/>
<rect x="213.6" y="84.4" width="4.2" height="4.2" fill="none" stroke="#0000ff" stroke-width="1.4"/>
<rect x="222.3" y="79.3" width="4.2" height="4.2" fill="none" stroke="#0000ff" stroke-width="1.4"/>
<rect x="231.1" y="70.8" width="4.2" height="4.2" fill="none" stroke="#0000ff" stroke-width="1.4"/>
<rect x="239.8" y="71.4" width="4.2" height="4.2" fill="none" stroke="#0000ff" stroke-width="1.4"/>
<rect x="248.5" y="66.4" width="4.2" height="4.2" fill="none" stroke="#0000ff" stroke-width="1.4"/>
<rect x="257.3" y="65.0" width="4.2" height="4.2" fill="none" stroke="#0000ff" stroke-width="1.4"/>
<rect x="266.0" y="63.6" width="4.2" height="4.2" fill="none" stroke="#0000ff" stroke-width="1.4"/>
<rect x="274.7" y="66.1" width="4.2" height="4.2" fill="none" stroke="#0000ff" stroke-width="1.4"/>
<rect x="283.5" y="62.0" width="4.2" height="4.2" fill="none" stroke="#0000ff" stroke-width="1.4"/>
<rect x="292.2" y="63.9" width="4.2" height="4.2" fill="none" stroke="#0000ff" stroke-width="1.4"/>
<rect x="300.9" y="65.7" width="4.2" height="4.2" fill="none" stroke="#0000ff" stroke-width="1.4"/>
<rect x="309.7" y="67.8" width="4.2" height="4.2" fill="none" stroke="#0000ff" stroke-width="1.4"/>
<rect x="318.4" y="62.4" width="4.2" height="4.2" fill="none" stroke="#0000ff" stroke-width="1.4"/>
<rect x="327.1" y="62.8" width="4.2" height="4.2" fill="none" stroke="#0000ff" stroke-width="1.4"/>
<rect x="335.9" y="63.6" width="4.2" height="4.2" fill="none" stroke="#0000ff" stroke-width="1.4"/>
<rect x="344.6" y="59.7" width="4.2" height="4.2" fill="none" stroke="#0000ff" stroke-width="1.4"/>
<rect x="353.3" y="54.5" width="4.2" height="4.2" fill="none" stroke="#0000ff" stroke-width="1.4"/>
<rect x="362.1" y="49.9" width="4.2" height="4.2" fill="none" stroke="#0000ff" stroke-width="1.4"/>
<rect x="370.8" y="49.9" width="4.2" height="4.2" fill="none" stroke="#0000ff" stroke-width="1.4"/>
<rect x="379.5" y="43.2" width="4.2" height="4.2" fill="none" stroke="#0000ff" stroke-width="1.4"/>
<rect x="388.3" y="43.5" width="4.2" height="4.2" fill="none" stroke="#0000ff" stroke-width="1.4"/>
<rect x="397.0" y="49.4" width="4.2" height="4.2" fill="none" stroke="#0000ff" stroke-width="1.4"/>
<rect x="405.7" y="53.9" width="4.2" height="4.2" fill="none" stroke="#0000ff" stroke-width="1.4"/>
<rect x="414.5" y="53.1" width="4.2" height="4.2" fill="none" stroke="#0000ff" stroke-width="1.4"/>
<rect x="423.2" y="49.4" width="4.2" height="4.2" fill="none" stroke="#0000ff" stroke-width="1.4"/>
<rect x="431.9" y="49.4" width="4.2" height="4.2" fill="none" stroke="#0000ff" stroke-width="1.4"/>
<rect x="440.7" y="42.3" width="4.2" height="4.2" fill="none" stroke="#0000ff" stroke-width="1.4"/>
<rect x="449.4" y="41.5" width="4.2" height="4.2" fill="none" stroke="#0000ff" stroke-width="1.4"/>
<rect x="458.1" y="39.1" width="4.2" height="4.2" fill="none" stroke="#0000ff" stroke-width="1.4"/>
<rect x="466.9" y="38.0" width="4.2" height="4.2" fill="none" stroke="#0000ff" stroke-width="1.4"/>
<rect x="475.6" y="36.7" width="4.2" height="4.2" fill="none" stroke="#0000ff" stroke-width="1.4"/>
<rect x="484.3" y="36.7" width="4.2" height="4.2" fill="none" stroke="#0000ff" stroke-width="1.4"/>
<rect x="493.1" y="36.7" width="4.2" height="4.2" fill="none" stroke="#0000ff" stroke-width="1.4"/>
<rect x="501.8" y="34.3" width="4.2" height="4.2" fill="none" stroke="#0000ff" stroke-width="1.4"/>
<rect x="510.5" y="34.3" width="4.2" height="4.2" fill="none" stroke="#0000ff" stroke-width="1.4"/>
<rect x="519.3" y="38.3" width="4.2" height="4.2" fill="none" stroke="#0000ff" stroke-width="1.4"/>
<rect x="528.0" y="38.3" width="4.2" height="4.2" fill="none" stroke="#0000ff" stroke-width="1.4"/>
<rect x="536.7" y="38.3" width="4.2" height="4.2" fill="none" stroke="#0000ff" stroke-width="1.4"/>
<rect x="545.5" y="38.8" width="4.2" height="4.2" fill="none" stroke="#0000ff" stroke-width="1.4"/>
<rect x="554.2" y="38.3" width="4.2" height="4.2" fill="none" stroke="#0000ff" stroke-width="1.4"/>
<path d="M49.8 238.0 L58.5 202.5 L67.2 177.7 L76.0 189.5 L84.7 151.3 L93.4 132.0 L102.2 118.6 L110.9 127.2 L119.6 112.6 L128.4 109.3 L137.1 101.3 L145.8 106.4 L154.6 94.0 L163.3 77.0 L172.0 74.2 L180.8 78.4 L189.5 82.0 L198.2 79.7 L207.0 69.8 L215.7 72.9 L224.4 69.4 L233.2 68.7 L241.9 73.0 L250.6 65.5 L259.4 74.7 L268.1 70.8 L276.8 74.2 L285.6 71.2 L294.3 71.0 L303.0 75.0 L311.8 75.0 L320.5 68.7 L329.2 65.2 L338.0 65.7 L346.7 54.9 L355.4 56.6 L364.2 54.0 L372.9 49.2 L381.6 50.5 L390.4 51.5 L399.1 53.5 L407.8 57.0 L416.6 56.0 L425.3 53.0 L434.0 53.5 L442.8 54.4 L451.5 54.4 L460.2 53.7 L469.0 56.0 L477.7 52.5 L486.4 53.9 L495.2 52.3 L503.9 50.4 L512.6 51.7 L521.4 52.8 L530.1 55.2 L538.8 57.1 L547.6 58.3 L556.3 58.3" fill="none" stroke="#000000" stroke-width="1" stroke-dasharray="1 1.5"/>
<path d="M47.4 238.0H52.2M49.8 235.6V240.4" stroke="#000000" stroke-width="1.2"/>
<path d="M56.1 202.5H60.9M58.5 200.1V204.9" stroke="#000000" stroke-width="1.2"/>
<path d="M64.8 177.7H69.6M67.2 175.3V180.1" stroke="#000000" stroke-width="1.2"/>
<path d="M73.6 189.5H78.4M76.0 187.1V191.9" stroke="#000000" stroke-width="1.2"/>
<path d="M82.3 151.3H87.1M84.7 148.9V153.7" stroke="#000000" stroke-width="1.2"/>
<path d="M91.0 132.0H95.8M93.4 129.6V134.4" stroke="#000000" stroke-width="1.2"/>
<path d="M99.8 118.6H104.6M102.2 116.2V121.0" stroke="#000000" stroke-width="1.2"/>
<path d="M108.5 127.2H113.3M110.9 124.8V129.6" stroke="#000000" stroke-width="1.2"/>
<path d="M117.2 112.6H122.0M119.6 110.2V115.0" stroke="#000000" stroke-width="1.2"/>
<path d="M126.0 109.3H130.8M128.4 106.9V111.7" stroke="#000000" stroke-width="1.2"/>
<path d="M134.7 101.3H139.5M137.1 98.9V103.7" stroke="#000000" stroke-width="1.2"/>
<path d="M143.4 106.4H148.2M145.8 104.0V108.8" stroke="#000000" stroke-width="1.2"/>
<path d="M152.2 94.0H157.0M154.6 91.6V96.4" stroke="#000000" stroke-width="1.2"/>
<path d="M160.9 77.0H165.7M163.3 74.6V79.4" stroke="#000000" stroke-width="1.2"/>
<path d="M169.6 74.2H174.4M172.0 71.8V76.6" stroke="#000000" stroke-width="1.2"/>
<path d="M178.4 78.4H183.2M180.8 76.0V80.8" stroke="#000000" stroke-width="1.2"/>
<path d="M187.1 82.0H191.9M189.5 79.6V84.4" stroke="#000000" stroke-width="1.2"/>
<path d="M195.8 79.7H200.6M198.2 77.3V82.1" stroke="#000000" stroke-width="1.2"/>
<path d="M204.6 69.8H209.4M207.0 67.4V72.2" stroke="#000000" stroke-width="1.2"/>
<path d="M213.3 72.9H218.1M215.7 70.5V75.3" stroke="#000000" stroke-width="1.2"/>
<path d="M222.0 69.4H226.8M224.4 67.0V71.8" stroke="#000000" stroke-width="1.2"/>
<path d="M230.8 68.7H235.6M233.2 66.3V71.1" stroke="#000000" stroke-width="1.2"/>
<path d="M239.5 73.0H244.3M241.9 70.6V75.4" stroke="#000000" stroke-width="1.2"/>
<path d="M248.2 65.5H253.0M250.6 63.1V67.9" stroke="#000000" stroke-width="1.2"/>
<path d="M257.0 74.7H261.8M259.4 72.3V77.1" stroke="#000000" stroke-width="1.2"/>
<path d="M265.7 70.8H270.5M268.1 68.4V73.2" stroke="#000000" stroke-width="1.2"/>
<path d="M274.4 74.2H279.2M276.8 71.8V76.6" stroke="#000000" stroke-width="1.2"/>
<path d="M283.2 71.2H288.0M285.6 68.8V73.6" stroke="#000000" stroke-width="1.2"/>
<path d="M291.9 71.0H296.7M294.3 68.6V73.4" stroke="#000000" stroke-width="1.2"/>
<path d="M300.6 75.0H305.4M303.0 72.6V77.4" stroke="#000000" stroke-width="1.2"/>
<path d="M309.4 75.0H314.2M311.8 72.6V77.4" stroke="#000000" stroke-width="1.2"/>
<path d="M318.1 68.7H322.9M320.5 66.3V71.1" stroke="#000000" stroke-width="1.2"/>
<path d="M326.8 65.2H331.6M329.2 62.8V67.6" stroke="#000000" stroke-width="1.2"/>
<path d="M335.6 65.7H340.4M338.0 63.3V68.1" stroke="#000000" stroke-width="1.2"/>
<path d="M344.3 54.9H349.1M346.7 52.5V57.3" stroke="#000000" stroke-width="1.2"/>
<path d="M353.0 56.6H357.8M355.4 54.2V59.0" stroke="#000000" stroke-width="1.2"/>
<path d="M361.8 54.0H366.6M364.2 51.6V56.4" stroke="#000000" stroke-width="1.2"/>
<path d="M370.5 49.2H375.3M372.9 46.8V51.6" stroke="#000000" stroke-width="1.2"/>
<path d="M379.2 50.5H384.0M381.6 48.1V52.9" stroke="#000000" stroke-width="1.2"/>
<path d="M388.0 51.5H392.8M390.4 49.1V53.9" stroke="#000000" stroke-width="1.2"/>
<path d="M396.7 53.5H401.5M399.1 51.1V55.9" stroke="#000000" stroke-width="1.2"/>
<path d="M405.4 57.0H410.2M407.8 54.6V59.4" stroke="#000000" stroke-width="1.2"/>
<path d="M414.2 56.0H419.0M416.6 53.6V58.4" stroke="#000000" stroke-width="1.2"/>
<path d="M422.9 53.0H427.7M425.3 50.6V55.4" stroke="#000000" stroke-width="1.2"/>
<path d="M431.6 53.5H436.4M434.0 51.1V55.9" stroke="#000000" stroke-width="1.2"/>
<path d="M440.4 54.4H445.2M442.8 52.0V56.8" stroke="#000000" stroke-width="1.2"/>
<path d="M449.1 54.4H453.9M451.5 52.0V56.8" stroke="#000000" stroke-width="1.2"/>
<path d="M457.8 53.7H462.6M460.2 51.3V56.1" stroke="#000000" stroke-width="1.2"/>
<path d="M466.6 56.0H471.4M469.0 53.6V58.4" stroke="#000000" stroke-width="1.2"/>
<path d="M475.3 52.5H480.1M477.7 50.1V54.9" stroke="#000000" stroke-width="1.2"/>
<path d="M484.0 53.9H488.8M486.4 51.5V56.3" stroke="#000000" stroke-width="1.2"/>
<path d="M492.8 52.3H497.6M495.2 49.9V54.7" stroke="#000000" stroke-width="1.2"/>
<path d="M501.5 50.4H506.3M503.9 48.0V52.8" stroke="#000000" stroke-width="1.2"/>
<path d="M510.2 51.7H515.0M512.6 49.3V54.1" stroke="#000000" stroke-width="1.2"/>
<path d="M519.0 52.8H523.8M521.4 50.4V55.2" stroke="#000000" stroke-width="1.2"/>
<path d="M527.7 55.2H532.5M530.1 52.8V57.6" stroke="#000000" stroke-width="1.2"/>
<path d="M536.4 57.1H541.2M538.8 54.7V59.5" stroke="#000000" stroke-width="1.2"/>
<path d="M545.2 58.3H550.0M547.6 55.9V60.7" stroke="#000000" stroke-width="1.2"/>
<path d="M553.9 58.3H558.7M556.3 55.9V60.7" stroke="#000000" stroke-width="1.2"/>
<path d="M49.8 257.3 L58.5 208.0 L67.2 156.5 L76.0 200.0 L84.7 170.0 L93.4 136.6 L102.2 130.3 L110.9 151.2 L119.6 128.0 L128.4 125.8 L137.1 115.3 L145.8 98.9 L154.6 83.7 L163.3 78.4 L172.0 76.5 L180.8 83.1 L189.5 85.6 L198.2 75.6 L207.0 76.3 L215.7 81.1 L224.4 78.4 L233.2 73.0 L241.9 76.3 L250.6 73.0 L259.4 80.0 L268.1 75.0 L276.8 80.0 L285.6 76.0 L294.3 75.5 L303.0 78.1 L311.8 76.4 L320.5 71.2 L329.2 70.4 L338.0 71.2 L346.7 65.2 L355.4 61.8 L364.2 57.5 L372.9 53.0 L381.6 51.8 L390.4 51.0 L399.1 58.5 L407.8 61.7 L416.6 60.1 L425.3 56.2 L434.0 57.3 L442.8 54.0 L451.5 54.2 L460.2 53.2 L469.0 51.6 L477.7 49.1 L486.4 49.3 L495.2 47.5 L503.9 45.6 L512.6 46.1 L521.4 52.3 L530.1 52.0 L538.8 53.1 L547.6 53.6 L556.3 53.9" fill="none" stroke="#ff0000" stroke-width="1" stroke-dasharray="4 1.5 1 1.5"/>
<path d="M47.6 257.3H52.0M49.8 255.1V259.5M48.3 255.8L51.3 258.8M48.3 258.8L51.3 255.8" stroke="#ff0000" stroke-width="0.9"/>
<path d="M56.3 208.0H60.7M58.5 205.8V210.2M57.0 206.5L60.0 209.5M57.0 209.5L60.0 206.5" stroke="#ff0000" stroke-width="0.9"/>
<path d="M65.0 156.5H69.4M67.2 154.3V158.7M65.7 155.0L68.7 158.0M65.7 158.0L68.7 155.0" stroke="#ff0000" stroke-width="0.9"/>
<path d="M73.8 200.0H78.2M76.0 197.8V202.2M74.5 198.5L77.5 201.5M74.5 201.5L77.5 198.5" stroke="#ff0000" stroke-width="0.9"/>
<path d="M82.5 170.0H86.9M84.7 167.8V172.2M83.2 168.5L86.2 171.5M83.2 171.5L86.2 168.5" stroke="#ff0000" stroke-width="0.9"/>
<path d="M91.2 136.6H95.6M93.4 134.4V138.8M91.9 135.1L94.9 138.1M91.9 138.1L94.9 135.1" stroke="#ff0000" stroke-width="0.9"/>
<path d="M100.0 130.3H104.4M102.2 128.1V132.5M100.7 128.8L103.7 131.8M100.7 131.8L103.7 128.8" stroke="#ff0000" stroke-width="0.9"/>
<path d="M108.7 151.2H113.1M110.9 149.0V153.4M109.4 149.7L112.4 152.7M109.4 152.7L112.4 149.7" stroke="#ff0000" stroke-width="0.9"/>
<path d="M117.4 128.0H121.8M119.6 125.8V130.2M118.1 126.5L121.1 129.5M118.1 129.5L121.1 126.5" stroke="#ff0000" stroke-width="0.9"/>
<path d="M126.2 125.8H130.6M128.4 123.6V128.0M126.9 124.3L129.9 127.3M126.9 127.3L129.9 124.3" stroke="#ff0000" stroke-width="0.9"/>
<path d="M134.9 115.3H139.3M137.1 113.1V117.5M135.6 113.8L138.6 116.8M135.6 116.8L138.6 113.8" stroke="#ff0000" stroke-width="0.9"/>
<path d="M143.6 98.9H148.0M145.8 96.7V101.1M144.3 97.4L147.3 100.4M144.3 100.4L147.3 97.4" stroke="#ff0000" stroke-width="0.9"/>
<path d="M152.4 83.7H156.8M154.6 81.5V85.9M153.1 82.2L156.1 85.2M153.1 85.2L156.1 82.2" stroke="#ff0000" stroke-width="0.9"/>
<path d="M161.1 78.4H165.5M163.3 76.2V80.6M161.8 76.9L164.8 79.9M161.8 79.9L164.8 76.9" stroke="#ff0000" stroke-width="0.9"/>
<path d="M169.8 76.5H174.2M172.0 74.3V78.7M170.5 75.0L173.5 78.0M170.5 78.0L173.5 75.0" stroke="#ff0000" stroke-width="0.9"/>
<path d="M178.6 83.1H183.0M180.8 80.9V85.3M179.3 81.6L182.3 84.6M179.3 84.6L182.3 81.6" stroke="#ff0000" stroke-width="0.9"/>
<path d="M187.3 85.6H191.7M189.5 83.4V87.8M188.0 84.1L191.0 87.1M188.0 87.1L191.0 84.1" stroke="#ff0000" stroke-width="0.9"/>
<path d="M196.0 75.6H200.4M198.2 73.4V77.8M196.7 74.1L199.7 77.1M196.7 77.1L199.7 74.1" stroke="#ff0000" stroke-width="0.9"/>
<path d="M204.8 76.3H209.2M207.0 74.1V78.5M205.5 74.8L208.5 77.8M205.5 77.8L208.5 74.8" stroke="#ff0000" stroke-width="0.9"/>
<path d="M213.5 81.1H217.9M215.7 78.9V83.3M214.2 79.6L217.2 82.6M214.2 82.6L217.2 79.6" stroke="#ff0000" stroke-width="0.9"/>
<path d="M222.2 78.4H226.6M224.4 76.2V80.6M222.9 76.9L225.9 79.9M222.9 79.9L225.9 76.9" stroke="#ff0000" stroke-width="0.9"/>
<path d="M231.0 73.0H235.4M233.2 70.8V75.2M231.7 71.5L234.7 74.5M231.7 74.5L234.7 71.5" stroke="#ff0000" stroke-width="0.9"/>
<path d="M239.7 76.3H244.1M241.9 74.1V78.5M240.4 74.8L243.4 77.8M240.4 77.8L243.4 74.8" stroke="#ff0000" stroke-width="0.9"/>
<path d="M248.4 73.0H252.8M250.6 70.8V75.2M249.1 71.5L252.1 74.5M249.1 74.5L252.1 71.5" stroke="#ff0000" stroke-width="0.9"/>
<path d="M257.2 80.0H261.6M259.4 77.8V82.2M257.9 78.5L260.9 81.5M257.9 81.5L260.9 78.5" stroke="#ff0000" stroke-width="0.9"/>
<path d="M265.9 75.0H270.3M268.1 72.8V77.2M266.6 73.5L269.6 76.5M266.6 76.5L269.6 73.5" stroke="#ff0000" stroke-width="0.9"/>
<path d="M274.6 80.0H279.0M276.8 77.8V82.2M275.3 78.5L278.3 81.5M275.3 81.5L278.3 78.5" stroke="#ff0000" stroke-width="0.9"/>
<path d="M283.4 76.0H287.8M285.6 73.8V78.2M284.1 74.5L287.1 77.5M284.1 77.5L287.1 74.5" stroke="#ff0000" stroke-width="0.9"/>
<path d="M292.1 75.5H296.5M294.3 73.3V77.7M292.8 74.0L295.8 77.0M292.8 77.0L295.8 74.0" stroke="#ff0000" stroke-width="0.9"/>
<path d="M300.8 78.1H305.2M303.0 75.9V80.3M301.5 76.6L304.5 79.6M301.5 79.6L304.5 76.6" stroke="#ff0000" stroke-width="0.9"/>
<path d="M309.6 76.4H314.0M311.8 74.2V78.6M310.3 74.9L313.3 77.9M310.3 77.9L313.3 74.9" stroke="#ff0000" stroke-width="0.9"/>
<path d="M318.3 71.2H322.7M320.5 69.0V73.4M319.0 69.7L322.0 72.7M319.0 72.7L322.0 69.7" stroke="#ff0000" stroke-width="0.9"/>
<path d="M327.0 70.4H331.4M329.2 68.2V72.6M327.7 68.9L330.7 71.9M327.7 71.9L330.7 68.9" stroke="#ff0000" stroke-width="0.9"/>
<path d="M335.8 71.2H340.2M338.0 69.0V73.4M336.5 69.7L339.5 72.7M336.5 72.7L339.5 69.7" stroke="#ff0000" stroke-width="0.9"/>
<path d="M344.5 65.2H348.9M346.7 63.0V67.4M345.2 63.7L348.2 66.7M345.2 66.7L348.2 63.7" stroke="#ff0000" stroke-width="0.9"/>
<path d="M353.2 61.8H357.6M355.4 59.6V64.0M353.9 60.3L356.9 63.3M353.9 63.3L356.9 60.3" stroke="#ff0000" stroke-width="0.9"/>
<path d="M362.0 57.5H366.4M364.2 55.3V59.7M362.7 56.0L365.7 59.0M362.7 59.0L365.7 56.0" stroke="#ff0000" stroke-width="0.9"/>
<path d="M370.7 53.0H375.1M372.9 50.8V55.2M371.4 51.5L374.4 54.5M371.4 54.5L374.4 51.5" stroke="#ff0000" stroke-width="0.9"/>
<path d="M379.4 51.8H383.8M381.6 49.6V54.0M380.1 50.3L383.1 53.3M380.1 53.3L383.1 50.3" stroke="#ff0000" stroke-width="0.9"/>
<path d="M388.2 51.0H392.6M390.4 48.8V53.2M388.9 49.5L391.9 52.5M388.9 52.5L391.9 49.5" stroke="#ff0000" stroke-width="0.9"/>
<path d="M396.9 58.5H401.3M399.1 56.3V60.7M397.6 57.0L400.6 60.0M397.6 60.0L400.6 57.0" stroke="#ff0000" stroke-width="0.9"/>
<path d="M405.6 61.7H410.0M407.8 59.5V63.9M406.3 60.2L409.3 63.2M406.3 63.2L409.3 60.2" stroke="#ff0000" stroke-width="0.9"/>
<path d="M414.4 60.1H418.8M416.6 57.9V62.3M415.1 58.6L418.1 61.6M415.1 61.6L418.1 58.6" stroke="#ff0000" stroke-width="0.9"/>
<path d="M423.1 56.2H427.5M425.3 54.0V58.4M423.8 54.7L426.8 57.7M423.8 57.7L426.8 54.7" stroke="#ff0000" stroke-width="0.9"/>
<path d="M431.8 57.3H436.2M434.0 55.1V59.5M432.5 55.8L435.5 58.8M432.5 58.8L435.5 55.8" stroke="#ff0000" stroke-width="0.9"/>
<path d="M440.6 54.0H445.0M442.8 51.8V56.2M441.3 52.5L444.3 55.5M441.3 55.5L444.3 52.5" stroke="#ff0000" stroke-width="0.9"/>
<path d="M449.3 54.2H453.7M451.5 52.0V56.4M450.0 52.7L453.0 55.7M450.0 55.7L453.0 52.7" stroke="#ff0000" stroke-width="0.9"/>
<path d="M458.0 53.2H462.4M460.2 51.0V55.4M458.7 51.7L461.7 54.7M458.7 54.7L461.7 51.7" stroke="#ff0000" stroke-width="0.9"/>
<path d="M466.8 51.6H471.2M469.0 49.4V53.8M467.5 50.1L470.5 53.1M467.5 53.1L470.5 50.1" stroke="#ff0000" stroke-width="0.9"/>
<path d="M475.5 49.1H479.9M477.7 46.9V51.3M476.2 47.6L479.2 50.6M476.2 50.6L479.2 47.6" stroke="#ff0000" stroke-width="0.9"/>
<path d="M484.2 49.3H488.6M486.4 47.1V51.5M484.9 47.8L487.9 50.8M484.9 50.8L487.9 47.8" stroke="#ff0000" stroke-width="0.9"/>
<path d="M493.0 47.5H497.4M495.2 45.3V49.7M493.7 46.0L496.7 49.0M493.7 49.0L496.7 46.0" stroke="#ff0000" stroke-width="0.9"/>
<path d="M501.7 45.6H506.1M503.9 43.4V47.8M502.4 44.1L505.4 47.1M502.4 47.1L505.4 44.1" stroke="#ff0000" stroke-width="0.9"/>
<path d="M510.4 46.1H514.8M512.6 43.9V48.3M511.1 44.6L514.1 47.6M511.1 47.6L514.1 44.6" stroke="#ff0000" stroke-width="0.9"/>
<path d="M519.2 52.3H523.6M521.4 50.1V54.5M519.9 50.8L522.9 53.8M519.9 53.8L522.9 50.8" stroke="#ff0000" stroke-width="0.9"/>
<path d="M527.9 52.0H532.3M530.1 49.8V54.2M528.6 50.5L531.6 53.5M528.6 53.5L531.6 50.5" stroke="#ff0000" stroke-width="0.9"/>
<path d="M536.6 53.1H541.0M538.8 50.9V55.3M537.3 51.6L540.3 54.6M537.3 54.6L540.3 51.6" stroke="#ff0000" stroke-width="0.9"/>
<path d="M545.4 53.6H549.8M547.6 51.4V55.8M546.1 52.1L549.1 55.1M546.1 55.1L549.1 52.1" stroke="#ff0000" stroke-width="0.9"/>
<path d="M554.1 53.9H558.5M556.3 51.7V56.1M554.8 52.4L557.8 55.4M554.8 55.4L557.8 52.4" stroke="#ff0000" stroke-width="0.9"/>
<rect x="377.5" y="170.7" width="176.4" height="84.2" fill="#fff" stroke="#666" stroke-width="1"/>
<path d="M381.2 177.6H401" stroke="#ff00ff" stroke-width="1"/>
<circle cx="391.2" cy="177.6" r="2.0" fill="none" stroke="#ff00ff" stroke-width="1.3"/>
<text x="403.5" y="180.8" class="l">PCA/RR by Line B1</text>
<path d="M381.2 189.2H401" stroke="#00e8e8" stroke-width="1" stroke-dasharray="4 1.5 1 1.5"/>
<path d="M390.0 188.1L392.4 190.4M390.0 190.4L392.4 188.1" stroke="#00e8e8" stroke-width="1"/>
<text x="403.5" y="192.6" class="l">PCA/RR by Line B2/B1</text>
<path d="M381.2 200.9H401" stroke="#00ff00" stroke-width="1" stroke-dasharray="1 1.5"/>
<polygon points="391.20,198.60 390.32,199.38 389.21,199.75 389.45,200.90 389.21,202.05 390.32,202.42 391.20,203.20 392.07,202.42 393.19,202.05 392.95,200.90 393.19,199.75 392.07,199.38" fill="#a8f0a8" stroke="#18d018" stroke-width="1.2"/>
<text x="403.5" y="204.4" class="l">PCA/RR by Line W1/B1</text>
<path d="M381.2 212.6H401" stroke="#ffff00" stroke-width="1"/>
<path d="M391.2 210.0L393.4 212.6L391.2 215.2L389.0 212.6Z" fill="#f6f640" stroke="none"/>
<text x="403.5" y="216.2" class="l">PCA by All Data/RR by Line B1</text>
<path d="M381.2 224.2H401" stroke="#0000ff" stroke-width="1" stroke-dasharray="3 2"/>
<rect x="389.1" y="222.1" width="4.2" height="4.2" fill="none" stroke="#0000ff" stroke-width="1.4"/>
<text x="403.5" y="228.0" class="l">PCA by All Data/RR by Line B2/B1</text>
<path d="M381.2 235.8H401" stroke="#000000" stroke-width="1" stroke-dasharray="1 1.5"/>
<path d="M388.8 235.8H393.6M391.2 233.4V238.2" stroke="#000000" stroke-width="1.2"/>
<text x="403.5" y="239.8" class="l">PCA by All Data/RR by Line W1/B1</text>
<path d="M381.2 247.5H401" stroke="#ff0000" stroke-width="1" stroke-dasharray="4 1.5 1 1.5"/>
<path d="M389.0 247.5H393.4M391.2 245.3V249.7M389.7 246.0L392.7 249.0M389.7 249.0L392.7 246.0" stroke="#ff0000" stroke-width="0.9"/>
<text x="403.5" y="251.6" class="l">PCA/RR by All Data</text>
</svg>
</body></html>
